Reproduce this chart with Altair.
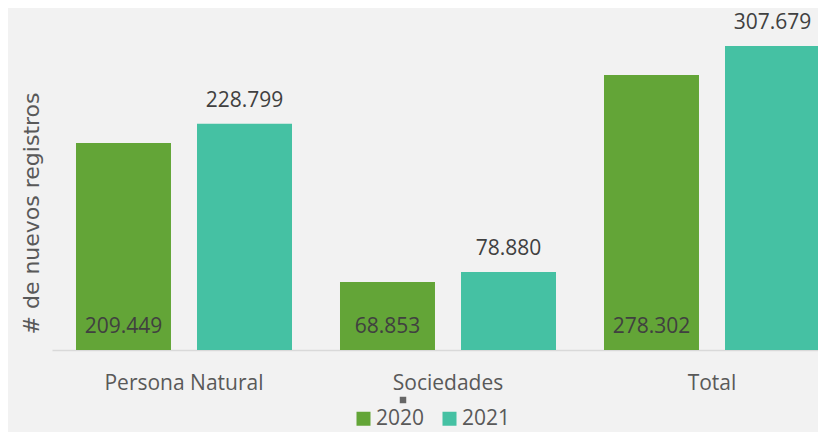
import altair as alt
import pandas as pd

categorias = ["Persona Natural", "Sociedades", "Total"]
anios = ["2020", "2021"]
valores_2020 = [209449, 68853, 278302]
valores_2021 = [228799, 78880, 307679]
colores = ["#63A537", "#45C1A3"]

rows = []
for c, a, b in zip(categorias, valores_2020, valores_2021):
    rows.append({"categoria": c, "anio": "2020", "valor": a})
    rows.append({"categoria": c, "anio": "2021", "valor": b})
df = pd.DataFrame(rows)
df["etiqueta"] = df["valor"].map(lambda v: f"{v:,}".replace(",", "."))

NUM_FONT = "Open Sans"

base = alt.Chart(df).encode(
    x=alt.X(
        "categoria:N",
        sort=categorias,
        scale=alt.Scale(range=[0, 792], paddingInner=0.1818, paddingOuter=0.0909, align=0.5),
        axis=alt.Axis(
            title=None,
            labelAngle=0,
            ticks=False,
            tickSize=0,
            domainColor="#d9d9d9",
            domainWidth=1.5,
            labelFont=NUM_FONT,
            labelFontSize=21,
            labelColor="#595959",
            labelPadding=39,
            labelBaseline="alphabetic",
        ),
    ),
    xOffset=alt.XOffset(
        "anio:N", scale=alt.Scale(domain=anios, paddingInner=0.215, paddingOuter=0)
    ),
)

bars = base.mark_bar().encode(
    y=alt.Y(
        "valor:Q",
        scale=alt.Scale(domain=[0, 346000], nice=False),
        axis=alt.Axis(
            labels=False,
            ticks=False,
            domain=False,
            grid=False,
            title="# de nuevos registros",
            titleFont="DejaVu Sans",
            titleFontSize=22,
            titleFontWeight="normal",
            titleColor="#595959",
            titleAngle=270,
            titleX=-14,
            titleY=205,
            titleAlign="center",
            titleBaseline="alphabetic",
        ),
    ),
    color=alt.Color(
        "anio:N",
        scale=alt.Scale(domain=anios, range=colores),
        legend=alt.Legend(
            title=None,
            orient="none",
            legendX=301,
            legendY=400,
            direction="horizontal",
            symbolType="square",
            symbolSize=196,
            symbolStrokeWidth=0,
            labelFont=NUM_FONT,
            labelFontSize=21,
            labelColor="#595959",
            columnPadding=14,
            labelOffset=2,
            padding=0,
        ),
    ),
)

lab2021 = base.transform_filter(alt.datum.anio == "2021").mark_text(
    dy=-17, baseline="alphabetic", font=NUM_FONT, fontSize=21, color="#404040"
).encode(y=alt.Y("valor:Q"), text="etiqueta:N")

lab2020 = base.transform_filter(alt.datum.anio == "2020").mark_text(
    dy=-17, baseline="alphabetic", font=NUM_FONT, fontSize=21, color="#404040"
).encode(y=alt.datum(0), text="etiqueta:N")

marca = alt.Chart(pd.DataFrame({"k": [0]})).mark_square(
    size=42, color="#666666", opacity=1
).encode(x=alt.value(351), y=alt.value(392))

chart = (
    alt.layer(bars, lab2021, lab2020, marca)
    .properties(
        width=766,
        height=342,
        autosize=alt.AutoSizeParams(type="none"),
        padding={"left": 44, "top": 0, "right": 0, "bottom": 82},
        background="#f2f2f2",
    )
    .configure_view(stroke=None)
)

chart.save("out.html", embed_options={"renderer": "svg", "actions": False})
